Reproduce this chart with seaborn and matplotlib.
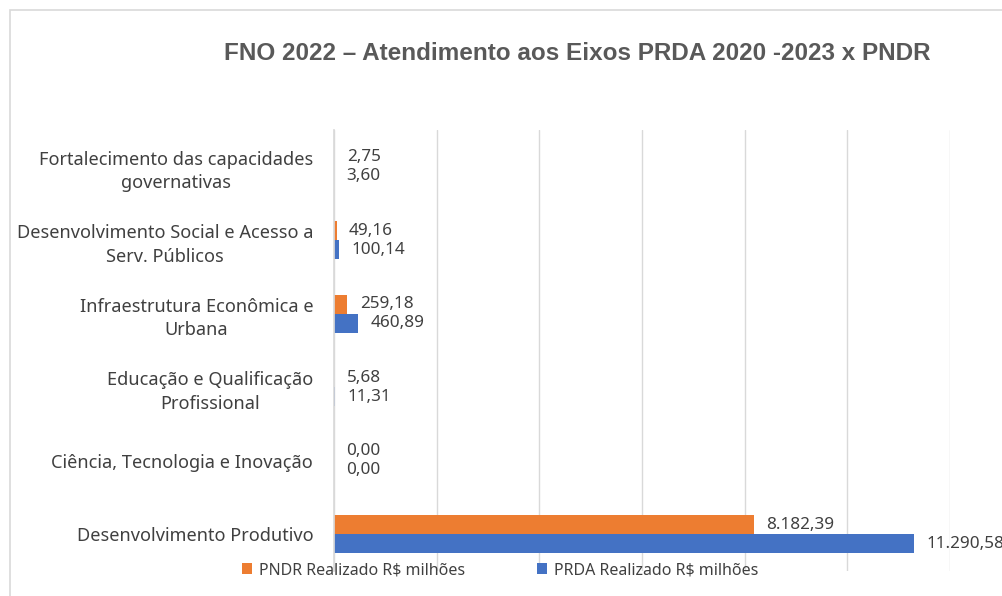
import matplotlib
matplotlib.use("Agg")

import matplotlib.pyplot as plt
import pandas as pd
import seaborn as sns
from matplotlib.patches import Rectangle

categories = [
    "Fortalecimento das capacidades\ngovernativas",
    "Desenvolvimento Social e Acesso a\nServ. Públicos",
    "Infraestrutura Econômica e\nUrbana",
    "Educação e Qualificação\nProfissional",
    "Ciência, Tecnologia e Inovação",
    "Desenvolvimento Produtivo",
]
pndr_values = [2.75, 49.16, 259.18, 5.68, 0.00, 8182.39]
prda_values = [3.60, 100.14, 460.89, 11.31, 0.00, 11290.58]
series_names = ["PNDR Realizado R$ milhões", "PRDA Realizado R$ milhões"]
series_colors = ["#ED7D31", "#4472C4"]
title = "FNO 2022 – Atendimento aos Eixos PRDA 2020 -2023 x PNDR"


def fmt_br(v):
    s = f"{v:,.2f}"
    return s.replace(",", "X").replace(".", ",").replace("X", ".")


df = pd.DataFrame({
    "categoria": categories * 2,
    "valor": pndr_values + prda_values,
    "serie": [series_names[0]] * len(categories) + [series_names[1]] * len(categories),
})

sns.set_theme(style="white")
plt.rcParams["font.family"] = ["Noto Sans", "DejaVu Sans"]
text_color = "#404040"

fig = plt.figure(figsize=(10.02, 5.96), dpi=100)
ax = fig.add_axes([334 / 1002, 1 - 571 / 596, (950 - 334) / 1002, (571 - 130) / 596])

sns.barplot(
    data=df, x="valor", y="categoria", hue="serie",
    hue_order=series_names, palette=series_colors,
    orient="h", width=0.52, saturation=1, linewidth=0, ax=ax,
)

handles, labels = ax.get_legend_handles_labels()
ax.get_legend().remove()

for cont, vals in zip(ax.containers, [pndr_values, prda_values]):
    ax.bar_label(cont, labels=[fmt_br(v) for v in vals], padding=9,
                 fontsize=12.3, color=text_color, clip_on=False)

ax.set_xlim(0, 12000)
ax.set_xticks(range(0, 12001, 2000))
ax.tick_params(axis="x", length=0, labelbottom=False)
ax.tick_params(axis="y", length=0, pad=15)
ax.xaxis.grid(True, color="#D9D9D9", linewidth=1)
ax.set_axisbelow(True)
ax.set_xlabel("")
ax.set_ylabel("")
for side in ["top", "right", "bottom"]:
    ax.spines[side].set_visible(False)
ax.spines["left"].set_color("#D9D9D9")
for lbl in ax.get_yticklabels():
    lbl.set_fontsize(13.1)
    lbl.set_color(text_color)
    lbl.set_multialignment("center")
    lbl.set_linespacing(1.4)

fig.text(577 / 1002, 1 - 53 / 596, title, ha="center", va="center",
         fontsize=17.5, fontweight="bold", color="#595959",
         family=["Liberation Sans", "DejaVu Sans"])

fig.legend(handles, labels, loc="center", bbox_to_anchor=(500 / 1002, 1 - 570 / 596),
           ncol=2, frameon=False, fontsize=11.5, handlelength=0.65, handleheight=0.65,
           handletextpad=0.4, columnspacing=4.5, labelcolor=text_color)

fig.patches.append(Rectangle((10 / 1002, -0.5), 2, 0.5 + 1 - 10 / 596,
                             transform=fig.transFigure, fill=False,
                             edgecolor="#D9D9D9", linewidth=1.2))

fig.savefig("out.png", dpi=100)
